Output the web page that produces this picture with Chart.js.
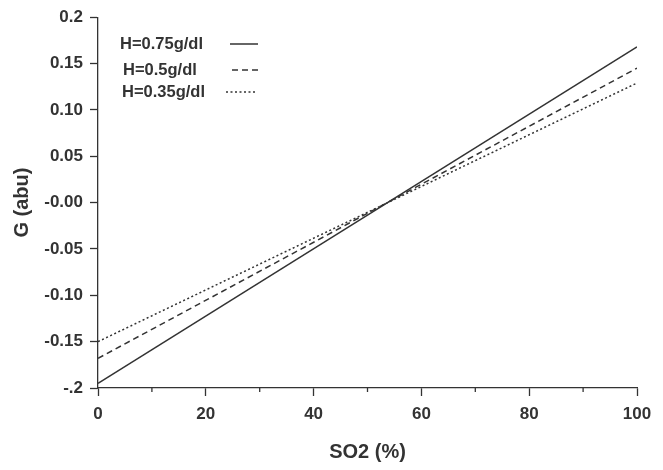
<!DOCTYPE html>
<html>
<head>
<meta charset="utf-8">
<script src="https://cdn.jsdelivr.net/npm/chart.js@4.4.1/dist/chart.umd.min.js"></script>
<style>
  html, body { margin: 0; padding: 0; background: #fff; }
  #wrap { width: 663px; height: 470px; }
</style>
</head>
<body>
<div id="wrap"><canvas id="g_chart_area"></canvas></div>
<script>
// SO2 (%) at the two ends of each line
const so2_values = [0, 100];

// G (abu) for each haemoglobin level
const g_h075 = [-0.195, 0.168];
const g_h050 = [-0.168, 0.145];
const g_h035 = [-0.150, 0.129];

const series_labels = ["H=0.75g/dl", "H=0.5g/dl", "H=0.35g/dl"];

// y tick labels as printed on the figure
const y_tick_labels = {
  "0.2": "0.2", "0.15": "0.15", "0.1": "0.10", "0.05": "0.05", "0": "-0.00",
  "-0.05": "-0.05", "-0.1": "-0.10", "-0.15": "-0.15", "-0.2": "-.2"
};

const INK = "#333";
const FONT = "'Liberation Sans', Arial, sans-serif";

// legend with text first and the line sample after it
const sideLegend = {
  id: "sideLegend",
  afterDraw(chart, args, opts) {
    const ctx = chart.ctx;
    ctx.save();
    ctx.font = "bold 16.5px " + FONT;
    ctx.fillStyle = INK;
    ctx.textBaseline = "middle";
    chart.data.datasets.forEach((ds, i) => {
      const y = opts.rows[i];
      ctx.fillText(ds.label, opts.textX[i], y);
      ctx.beginPath();
      ctx.strokeStyle = ds.borderColor;
      ctx.lineWidth = ds.borderWidth;
      ctx.setLineDash(ds.borderDash || []);
      ctx.moveTo(opts.lineX0[i], y);
      ctx.lineTo(opts.lineX1[i], y);
      ctx.stroke();
    });
    ctx.restore();
  }
};

// short minor ticks on the x axis between the labelled ones
const minorTicks = {
  id: "minorTicks",
  afterDraw(chart) {
    const x = chart.scales.x;
    const ctx = chart.ctx;
    ctx.save();
    ctx.strokeStyle = INK;
    ctx.lineWidth = 1.3;
    for (let v = 10; v < 100; v += 20) {
      const px = x.getPixelForValue(v);
      ctx.beginPath();
      ctx.moveTo(px, x.top);
      ctx.lineTo(px, x.top + 4);
      ctx.stroke();
    }
    ctx.restore();
  }
};

const makeSet = (label, values, dash) => ({
  label: label,
  data: so2_values.map((x, i) => ({ x: x, y: values[i] })),
  borderColor: INK,
  borderWidth: 1.5,
  borderDash: dash,
  pointRadius: 0,
  fill: false,
  tension: 0
});

const g_chart_area = document.getElementById("g_chart_area").getContext("2d");
const g_chart = new Chart(g_chart_area, {
  type: "line",
  data: {
    datasets: [
      makeSet(series_labels[0], g_h075, []),
      makeSet(series_labels[1], g_h050, [6, 4]),
      makeSet(series_labels[2], g_h035, [2, 2.5])
    ]
  },
  options: {
    responsive: true,
    maintainAspectRatio: false,
    animation: false,
    layout: { padding: { left: 0, right: 26, top: 15, bottom: 0 } },
    plugins: {
      legend: { display: false },
      tooltip: { enabled: false },
      sideLegend: {
        rows: [44, 70, 92],
        textX: [120, 123, 122],
        lineX0: [230, 232, 226],
        lineX1: [258, 258, 256]
      }
    },
    scales: {
      x: {
        type: "linear",
        min: 0,
        max: 100,
        afterFit: (s) => { s.height = 82; },
        ticks: {
          stepSize: 20,
          padding: 8,
          color: INK,
          font: { family: FONT, size: 17, weight: "bold" }
        },
        grid: { drawOnChartArea: false, tickLength: 8, tickColor: INK, tickWidth: 1.3 },
        border: { color: INK, width: 1.3 },
        title: {
          display: true,
          text: "SO2 (%)",
          color: INK,
          font: { family: FONT, size: 20, weight: "bold" },
          padding: { top: 0, bottom: 6 }
        }
      },
      y: {
        type: "linear",
        min: -0.2,
        max: 0.2,
        afterFit: (s) => { s.width = 98; },
        afterBuildTicks: (s) => {
          s.ticks = [-0.2, -0.15, -0.1, -0.05, 0, 0.05, 0.1, 0.15, 0.2].map((v) => ({ value: v }));
        },
        ticks: {
          padding: 7,
          color: INK,
          font: { family: FONT, size: 17, weight: "bold" },
          callback: (v) => y_tick_labels[String(Math.round(v * 100) / 100)]
        },
        grid: { drawOnChartArea: false, tickLength: 8, tickColor: INK, tickWidth: 1.3 },
        border: { color: INK, width: 1.3 },
        title: {
          display: true,
          text: "G (abu)",
          color: INK,
          font: { family: FONT, size: 20, weight: "bold" },
          padding: { top: 10, bottom: 0 }
        }
      }
    }
  },
  plugins: [sideLegend, minorTicks]
});
</script>
</body>
</html>
